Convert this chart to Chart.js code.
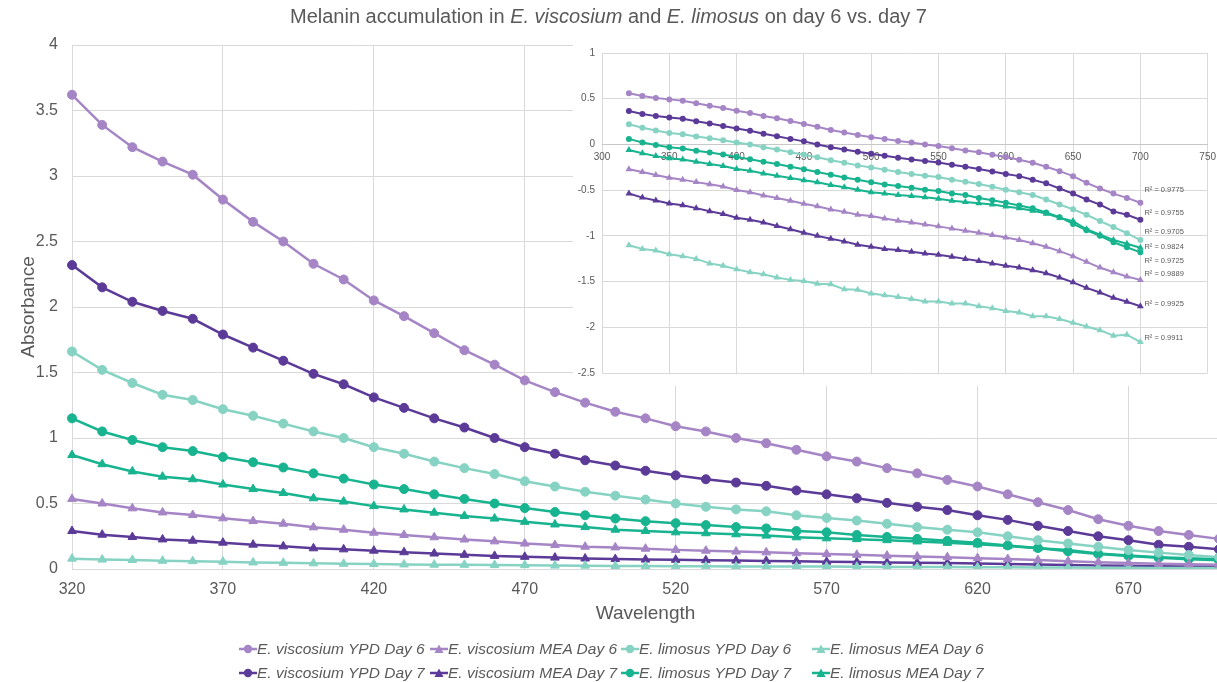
<!DOCTYPE html>
<html>
<head>
<meta charset="utf-8">
<title>Melanin accumulation</title>
<script src="https://cdn.jsdelivr.net/npm/chart.js@4.4.1/dist/chart.umd.min.js"></script>
<style>
  html, body { margin: 0; padding: 0; background: #fff; }
  #wrap { position: relative; width: 1217px; height: 682px; overflow: hidden;
          font-family: "Liberation Sans", Arial, sans-serif; color: #595959; }
  #main { position: absolute; left: 0; top: 0; }
  #inset { position: absolute; left: 573px; top: 38px; background: #fff; }
  #title { position: absolute; left: 0; top: 4px; width: 1217px; text-align: center;
           font-size: 20px; line-height: 24px; }
  #legend { position: absolute; left: 239px; top: 637px; display: grid;
            grid-template-columns: repeat(4, 191px); grid-auto-rows: 24px;
            font-size: 15.5px; font-style: italic; }
  .item { display: flex; align-items: center; white-space: nowrap; }
  .item svg { flex: none; }
</style>
</head>
<body>
<div id="wrap">
  <canvas id="main" width="1225" height="682"></canvas>
  <canvas id="inset" width="650" height="348"></canvas>
  <div id="title">Melanin accumulation in <i>E. viscosium</i> and <i>E. limosus</i> on day 6 vs. day 7</div>
  <div id="legend"></div>
</div>
<script>
// wavelengths (nm)
var wavelengths = [320, 330, 340, 350, 360, 370, 380, 390, 400, 410, 420, 430, 440, 450, 460, 470, 480, 490, 500, 510,
  520, 530, 540, 550, 560, 570, 580, 590, 600, 610, 620, 630, 640, 650, 660, 670, 680, 690, 700];

// absorbance per series
var viscYpdDay6 = [3.62, 3.39, 3.22, 3.11, 3.01, 2.82, 2.65, 2.50, 2.33, 2.21, 2.05, 1.93, 1.80, 1.67, 1.56, 1.44, 1.35, 1.27, 1.20, 1.15,
  1.09, 1.05, 1.00, 0.96, 0.91, 0.86, 0.82, 0.77, 0.73, 0.68, 0.63, 0.57, 0.51, 0.45, 0.38, 0.33, 0.29, 0.26, 0.23];
var viscMeaDay6 = [0.535, 0.50, 0.463, 0.432, 0.412, 0.387, 0.366, 0.346, 0.318, 0.30, 0.277, 0.26, 0.242, 0.225, 0.211, 0.194, 0.183, 0.17, 0.165, 0.155,
  0.146, 0.14, 0.133, 0.127, 0.12, 0.114, 0.108, 0.102, 0.096, 0.09, 0.083, 0.076, 0.068, 0.06, 0.052, 0.045, 0.04, 0.036, 0.033];
var limYpdDay6 = [1.66, 1.52, 1.42, 1.33, 1.29, 1.22, 1.17, 1.11, 1.05, 1.00, 0.93, 0.88, 0.82, 0.77, 0.725, 0.67, 0.63, 0.59, 0.56, 0.53,
  0.50, 0.475, 0.455, 0.44, 0.41, 0.39, 0.37, 0.345, 0.32, 0.30, 0.28, 0.25, 0.22, 0.195, 0.17, 0.145, 0.125, 0.107, 0.09];
var limMeaDay6 = [0.079, 0.072, 0.069, 0.063, 0.060, 0.056, 0.050, 0.047, 0.043, 0.040, 0.038, 0.035, 0.033, 0.032, 0.030, 0.0295, 0.026, 0.0257, 0.0234, 0.0224,
  0.0214, 0.0204, 0.0191, 0.0191, 0.0182, 0.0182, 0.017, 0.0162, 0.0151, 0.0145, 0.0132, 0.0132, 0.0123, 0.0112, 0.0102, 0.0093, 0.0081, 0.0083, 0.0069];
var viscYpdDay7 = [2.32, 2.15, 2.04, 1.97, 1.91, 1.79, 1.69, 1.59, 1.49, 1.41, 1.31, 1.23, 1.15, 1.08, 1.00, 0.93, 0.88, 0.83, 0.79, 0.75,
  0.715, 0.685, 0.66, 0.635, 0.60, 0.57, 0.54, 0.505, 0.475, 0.45, 0.41, 0.375, 0.33, 0.29, 0.25, 0.22, 0.185, 0.17, 0.15];
var viscMeaDay7 = [0.29, 0.262, 0.244, 0.226, 0.216, 0.201, 0.186, 0.173, 0.158, 0.15, 0.14, 0.128, 0.118, 0.108, 0.1, 0.093, 0.087, 0.08, 0.076, 0.072,
  0.07, 0.067, 0.064, 0.062, 0.059, 0.056, 0.053, 0.05, 0.047, 0.045, 0.042, 0.039, 0.035, 0.031, 0.027, 0.024, 0.021, 0.019, 0.017];
var limYpdDay7 = [1.15, 1.05, 0.985, 0.93, 0.90, 0.855, 0.815, 0.775, 0.73, 0.69, 0.645, 0.61, 0.57, 0.535, 0.50, 0.465, 0.435, 0.41, 0.385, 0.365,
  0.35, 0.335, 0.32, 0.31, 0.29, 0.28, 0.26, 0.245, 0.23, 0.215, 0.20, 0.18, 0.16, 0.135, 0.115, 0.10, 0.085, 0.075, 0.066];
var limMeaDay7 = [0.87, 0.80, 0.745, 0.705, 0.685, 0.645, 0.61, 0.58, 0.54, 0.515, 0.48, 0.455, 0.43, 0.405, 0.385, 0.36, 0.34, 0.32, 0.30, 0.29,
  0.28, 0.273, 0.265, 0.255, 0.242, 0.234, 0.228, 0.22, 0.21, 0.2, 0.188, 0.175, 0.158, 0.145, 0.118, 0.103, 0.09, 0.082, 0.074];

// trendline R² labels of the log plot, top to bottom, and the log value each one sits at
var r2Values = ['0.9775', '0.9755', '0.9705', '0.9824', '0.9725', '0.9889', '0.9925', '0.9911'];
var r2LabelAt = [-0.50, -0.75, -0.96, -1.12, -1.27, -1.42, -1.745, -2.115];

var lightPurple = '#a585c5';
var darkPurple = '#5b3a98';
var lightTeal = '#86d2c3';
var teal = '#18b38f';
var textColor = '#595959';
var gridColor = '#d9d9d9';

var series = [
  { name: 'E. viscosium YPD Day 6', data: viscYpdDay6, color: lightPurple, marker: 'circle' },
  { name: 'E. viscosium MEA Day 6', data: viscMeaDay6, color: lightPurple, marker: 'triangle' },
  { name: 'E. limosus YPD Day 6', data: limYpdDay6, color: lightTeal, marker: 'circle' },
  { name: 'E. limosus MEA Day 6', data: limMeaDay6, color: lightTeal, marker: 'triangle' },
  { name: 'E. viscosium YPD Day 7', data: viscYpdDay7, color: darkPurple, marker: 'circle' },
  { name: 'E. viscosium MEA Day 7', data: viscMeaDay7, color: darkPurple, marker: 'triangle' },
  { name: 'E. limosus YPD Day 7', data: limYpdDay7, color: teal, marker: 'circle' },
  { name: 'E. limosus MEA Day 7', data: limMeaDay7, color: teal, marker: 'triangle' }
];

Chart.defaults.font.family = '"Liberation Sans", Arial, sans-serif';
Chart.defaults.color = textColor;

function plainNumber(v) { return String(+v.toFixed(2)); }

// main chart
new Chart(document.getElementById('main'), {
  type: 'line',
  data: {
    labels: wavelengths,
    datasets: series.map(function (s) {
      return {
        label: s.name,
        data: s.data,
        borderColor: s.color,
        backgroundColor: s.color,
        pointStyle: s.marker,
        pointRadius: s.marker === 'circle' ? 4.5 : 5,
        pointBorderWidth: 1,
        borderWidth: 2.5,
        tension: 0
      };
    })
  },
  options: {
    responsive: false,
    animation: false,
    layout: { padding: { top: 45, right: 0, bottom: 53, left: 0 } },
    plugins: { legend: { display: false }, tooltip: { enabled: false } },
    scales: {
      x: {
        ticks: {
          autoSkip: false, maxRotation: 0, padding: 11, font: { size: 16 },
          callback: function (v, i) { return i % 5 === 0 ? String(wavelengths[i]) : null; }
        },
        grid: { color: gridColor, drawTicks: false },
        border: { color: gridColor },
        title: { display: true, text: 'Wavelength', font: { size: 19 }, padding: { top: 2, bottom: 4 } },
        afterFit: function (s) { s.height = 60; }
      },
      y: {
        min: 0, max: 4,
        ticks: { stepSize: 0.5, padding: 14, font: { size: 16 }, callback: plainNumber },
        grid: { color: gridColor, drawTicks: false },
        border: { display: false },
        title: { display: true, text: 'Absorbance', font: { size: 19 }, padding: { top: 17, bottom: 0 } },
        afterFit: function (s) { s.width = 72; }
      }
    }
  }
});

// inset: log10 of the same absorbances
var r2Labels = {
  id: 'r2Labels',
  afterDatasetsDraw: function (chart) {
    var ctx = chart.ctx, x = chart.scales.x, y = chart.scales.y;
    ctx.save();
    ctx.font = '7.5px "Liberation Sans", Arial, sans-serif';
    ctx.fillStyle = textColor;
    ctx.textBaseline = 'middle';
    r2Values.forEach(function (r, i) {
      ctx.fillText('R² = ' + r, x.getPixelForValue(703), y.getPixelForValue(r2LabelAt[i]));
    });
    ctx.restore();
  }
};

new Chart(document.getElementById('inset'), {
  type: 'scatter',
  data: {
    datasets: series.map(function (s) {
      return {
        label: s.name,
        data: s.data.map(function (v, i) { return { x: wavelengths[i], y: Math.log10(v) }; }),
        showLine: true,
        borderColor: s.color,
        backgroundColor: s.color,
        pointStyle: s.marker,
        pointRadius: 2,
        borderWidth: 2
      };
    })
  },
  options: {
    responsive: false,
    animation: false,
    layout: { padding: { top: 15, right: 6, bottom: 7, left: 0 } },
    plugins: { legend: { display: false }, tooltip: { enabled: false } },
    scales: {
      x: {
        type: 'linear', min: 300, max: 750, position: { y: 0 },
        ticks: { stepSize: 50, padding: 7, font: { size: 10 } },
        grid: { color: gridColor, drawTicks: false },
        border: { color: '#c8c8c8' }
      },
      y: {
        min: -2.5, max: 1,
        ticks: { stepSize: 0.5, padding: 7, font: { size: 10 }, callback: plainNumber },
        grid: { color: gridColor, drawTicks: false },
        border: { display: false },
        afterFit: function (s) { s.width = 29; }
      }
    }
  },
  plugins: [r2Labels]
});

// legend, laid out in four columns like the original
var legend = document.getElementById('legend');
series.forEach(function (s) {
  var item = document.createElement('div');
  item.className = 'item';
  var mark = s.marker === 'circle'
    ? '<circle cx="9" cy="6" r="4.2" fill="' + s.color + '"/>'
    : '<polygon points="9,1.5 13.5,10 4.5,10" fill="' + s.color + '"/>';
  item.innerHTML = '<svg width="18" height="12"><line x1="0" y1="6" x2="18" y2="6" stroke="' + s.color +
    '" stroke-width="2.5"/>' + mark + '</svg><span>' + s.name + '</span>';
  legend.appendChild(item);
});
</script>
</body>
</html>
